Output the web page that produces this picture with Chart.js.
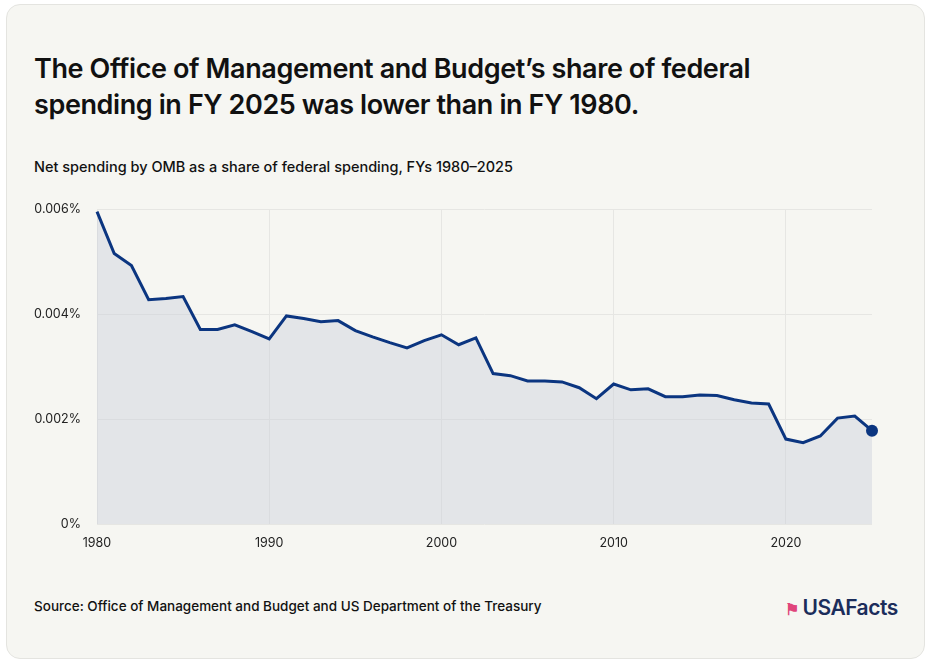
<!DOCTYPE html>
<html><head><meta charset="utf-8">
<script src="https://cdn.jsdelivr.net/npm/chart.js@4"></script>
<style>
body{margin:0;background:#fff;font-family:Inter,"Noto Sans",sans-serif;}
#card{position:absolute;left:6px;top:4px;width:917px;height:653px;background:#f6f6f2;border-radius:14px;border:1px solid #e4e4e0;}
h1{position:absolute;left:27px;top:46px;margin:0;font-size:27px;font-weight:600;line-height:36px;color:#111;letter-spacing:-0.4px;width:790px}
#sub{position:absolute;left:27px;top:153px;font-size:14.5px;font-weight:500;color:#111}
#src{position:absolute;left:27px;top:593px;font-size:13.5px;font-weight:500;color:#111}
#logo{position:absolute;left:778px;top:590px;font-size:21px;font-weight:600;color:#1b2d5b;letter-spacing:-0.5px}
#logo span{color:#e0457b;font-size:16px;margin-right:4px}
#wrap{position:absolute;left:24px;top:186px;width:870px;height:385px}
</style></head><body>
<div id="card">
<h1>The Office of Management and Budget’s share of federal spending in FY 2025 was lower than in FY 1980.</h1>
<div id="sub">Net spending by OMB as a share of federal spending, FYs 1980–2025</div>
<div id="src">Source: Office of Management and Budget and US Department of the Treasury</div>
<div id="logo"><span>⚑</span>USAFacts</div>
</div>
<div id="wrap"><canvas id="c"></canvas></div>
<script>
const years=[];for(let y=1980;y<=2025;y++)years.push(y);
const shares=[0.00596,0.00516,0.00493,0.00428,0.0043,0.00434,0.00371,0.00371,0.0038,0.00367,0.00353,0.00397,0.00392,0.00386,0.00388,0.00369,0.00357,0.00346,0.00336,0.0035,0.00361,0.00342,0.00355,0.00287,0.00283,0.00273,0.00273,0.00271,0.0026,0.00239,0.00267,0.00256,0.00258,0.00243,0.00243,0.00246,0.00245,0.00237,0.00231,0.00229,0.00162,0.00155,0.00168,0.00202,0.00206,0.00178];
const yTicks=[0,0.002,0.004,0.006];
const xTicks=[1980,1990,2000,2010,2020];
new Chart(document.getElementById('c'),{type:'line',
data:{datasets:[{data:years.map((y,i)=>({x:y,y:shares[i]})),borderColor:'#0b3580',borderWidth:3,backgroundColor:'rgba(200,206,218,0.4)',fill:'origin',tension:0,clip:false,
pointRadius:years.map((y,i)=>i===years.length-1?6:0),pointBackgroundColor:'#0b3580',pointBorderColor:'#0b3580',pointBorderWidth:0}]},
options:{responsive:true,maintainAspectRatio:false,animation:false,layout:{padding:{top:8,right:22,bottom:8}},
plugins:{legend:{display:false},tooltip:{enabled:false}},
scales:{x:{type:'linear',min:1980,max:2025,afterBuildTicks:a=>{a.ticks=xTicks.map(v=>({value:v}))},
ticks:{color:'#222',font:{family:'Inter',size:12.5},maxRotation:0,padding:12,callback:v=>v},grid:{color:'#e6e6e3',drawTicks:false},border:{display:false}},
y:{min:0,max:0.006,afterBuildTicks:a=>{a.ticks=yTicks.map(v=>({value:v}))},afterFit:a=>{a.width=73},
ticks:{color:'#222',font:{family:'Inter',size:12.5},padding:16,callback:v=>v===0?'0%':v.toFixed(3)+'%'},grid:{color:'#e6e6e3',drawTicks:false},border:{display:false}}}}});
</script></body></html>
